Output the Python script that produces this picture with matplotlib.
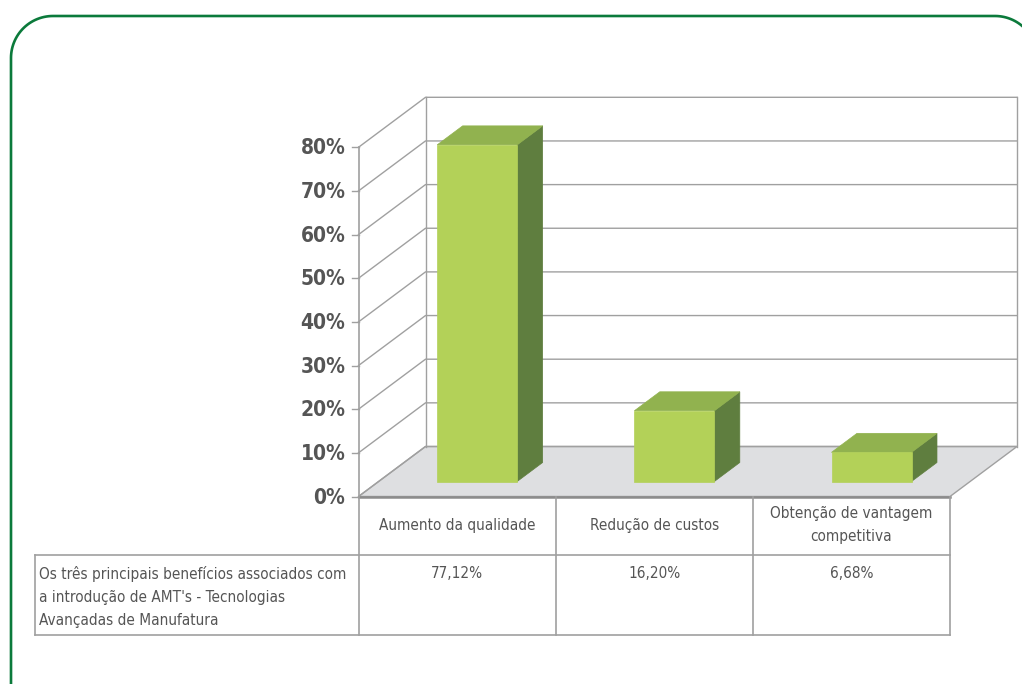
import numpy as np
import matplotlib.pyplot as plt
from matplotlib.patches import Polygon

plt.rcParams['font.family'] = ['Liberation Sans Narrow', 'DejaVu Sans']
plt.rcParams['font.stretch'] = 'condensed'

# ================= DATA =================
categories = ["Aumento da qualidade", "Redução de custos", "Obtenção de vantagem\ncompetitiva"]
values = [77.12, 16.20, 6.68]
value_labels = ["77,12%", "16,20%", "6,68%"]
row_label = "Os três principais benefícios associados com\na introdução de AMT's - Tecnologias\nAvançadas de Manufatura"
y_ticks = [0, 10, 20, 30, 40, 50, 60, 70, 80]

# ================= 3D-ish SCALE =================
X0, X1 = 358.5, 950.0      # front plane left / right (px)
Y0 = 496.5                 # front plane 0%
PX_PER_PCT = 4.365
DX, DY = 67.0, -50.0       # full depth offset
W = (X1 - X0) / len(categories)
BAR_HALF = 40.0
D_FRONT, D_BACK = 0.30, 0.68

TEXT = "#555555"
GRID = "#a0a0a0"
FRONT = "#b3d158"
TOP = "#91b24f"
SIDE = "#5f7e3f"


def proj(x, v, d):
    return (x + d * DX, Y0 - v * PX_PER_PCT + d * DY)


fig = plt.figure(figsize=(10.22, 6.84), dpi=100)
ax = fig.add_axes([0, 0, 1, 1])
ax.set_xlim(0, 1022)
ax.set_ylim(684, 0)
ax.axis("off")

# green rounded frame (decoration)
R = 42
t1 = np.linspace(np.pi, 1.5 * np.pi, 30)
t2 = np.linspace(1.5 * np.pi, 2 * np.pi, 30)
fx = np.concatenate([[11], 11 + R + R * np.cos(t1), 995 + R * np.cos(t2)])
fy = np.concatenate([[700], 16 + R + R * np.sin(t1), 16 + R + R * np.sin(t2)])
ax.plot(fx, fy, color="#0b7a3b", lw=1.9, zorder=1, clip_on=False)

vmax = y_ticks[-1]

# floor
floor = [proj(X0, 0, 0), proj(X0, 0, 1), proj(X1, 0, 1), proj(X1, 0, 0)]
ax.add_patch(Polygon(floor, closed=True, fc="#dedfe1", ec=GRID, lw=1, zorder=2))
ax.plot([X0, X1], [Y0, Y0], color="#8c8c8c", lw=1.8, zorder=3)

# gridlines: diagonal on side wall + horizontal on back wall
for v in y_ticks:
    p0 = proj(X0, v, 0)
    p1 = proj(X0, v, 1)
    p2 = proj(X1, v, 1)
    ax.plot([p0[0], p1[0], p2[0]], [p0[1], p1[1], p2[1]], color=GRID, lw=1, zorder=2)
    ax.plot([X0 - 7, X0], [p0[1], p0[1]], color=GRID, lw=1, zorder=2)
    ax.text(X0 - 13, p0[1] + 1, f"{v}%", ha="right", va="center", fontsize=15,
            fontweight="bold", color=TEXT)

# back wall edges
bl0, bl1 = proj(X0, 0, 1), proj(X0, vmax, 1)
br0, br1 = proj(X1, 0, 1), proj(X1, vmax, 1)
ax.plot([bl0[0], bl1[0]], [bl0[1], bl1[1]], color=GRID, lw=1, zorder=2)
ax.plot([br0[0], br1[0]], [br0[1], br1[1]], color=GRID, lw=1, zorder=2)

# bars
for i, v in enumerate(values):
    cx = X0 + (i + 0.5) * W
    xl, xr = cx - BAR_HALF, cx + BAR_HALF
    front = [proj(xl, 0, D_FRONT), proj(xl, v, D_FRONT), proj(xr, v, D_FRONT), proj(xr, 0, D_FRONT)]
    top = [proj(xl, v, D_FRONT), proj(xl, v, D_BACK), proj(xr, v, D_BACK), proj(xr, v, D_FRONT)]
    side = [proj(xr, 0, D_FRONT), proj(xr, v, D_FRONT), proj(xr, v, D_BACK), proj(xr, 0, D_BACK)]
    ax.add_patch(Polygon(side, closed=True, fc=SIDE, ec=SIDE, lw=0.5, zorder=4))
    ax.add_patch(Polygon(top, closed=True, fc=TOP, ec=TOP, lw=0.5, zorder=4))
    ax.add_patch(Polygon(front, closed=True, fc=FRONT, ec=FRONT, lw=0.5, zorder=5))

# ================= DATA TABLE =================
T_HEAD, T_MID, T_BOT = Y0, 555, 635
T_LEFT = 35
ax.plot([X0, X0], [proj(X0, vmax, 0)[1], T_BOT], color=GRID, lw=1.2, zorder=3)
for i in range(1, len(categories) + 1):
    x = X0 + i * W
    ax.plot([x, x], [T_HEAD, T_BOT], color=GRID, lw=1.2, zorder=3)
ax.plot([T_LEFT, X1], [T_MID, T_MID], color=GRID, lw=1.2, zorder=3)
ax.plot([T_LEFT, X1], [T_BOT, T_BOT], color=GRID, lw=1.2, zorder=3)
ax.plot([T_LEFT, T_LEFT], [T_MID, T_BOT], color=GRID, lw=1.2, zorder=3)

for i, (cat, lab) in enumerate(zip(categories, value_labels)):
    cx = X0 + (i + 0.5) * W
    ax.text(cx, (T_HEAD + T_MID) / 2 - 0.5, cat, ha="center", va="center",
            fontsize=11, color=TEXT, linespacing=1.7)
    ax.text(cx, T_MID + 11, lab, ha="center", va="top", fontsize=11, color=TEXT)

ax.text(T_LEFT + 4, T_MID + 11, row_label, ha="left", va="top", fontsize=11,
        color=TEXT, linespacing=1.65)

fig.savefig("out.png", dpi=100)
